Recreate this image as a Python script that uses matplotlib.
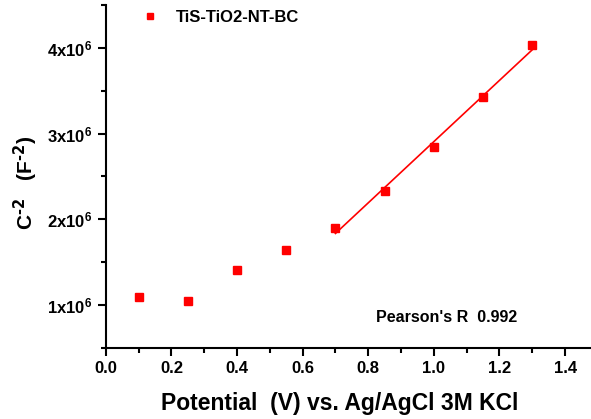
import numpy as np
import matplotlib
matplotlib.use('Agg')
import matplotlib.pyplot as plt
from matplotlib.ticker import MultipleLocator, FixedLocator

plt.rcParams['font.family'] = ['Liberation Sans', 'DejaVu Sans']
plt.rcParams['font.weight'] = 'bold'
plt.rcParams['mathtext.default'] = 'regular'

# data
potential = [0.10, 0.25, 0.40, 0.55, 0.70, 0.85, 1.00, 1.15, 1.30]
c_inv2 = [1.09e6, 1.05e6, 1.41e6, 1.64e6, 1.90e6, 2.33e6, 2.84e6, 3.43e6, 4.03e6]
fit_start = 4  # linear fit over the last five points
series_name = 'TiS-TiO2-NT-BC'
pearson_r = 0.992
ytick_vals = [1e6, 2e6, 3e6, 4e6]
ytick_labels = ['1x10$^{6}$', '2x10$^{6}$', '3x10$^{6}$', '4x10$^{6}$']

fig = plt.figure(figsize=(5.91, 4.19), dpi=100)
ax = fig.add_axes([0.179, 0.17, 0.821, 0.818])

ax.plot(potential, c_inv2, 's', color='red', markersize=5.5, label=series_name)

#linear fit line
xf = np.array(potential[fit_start:])
yf = np.array(c_inv2[fit_start:])
k, b = np.polyfit(xf, yf, 1)
ax.plot([xf[0], xf[-1]], [k*xf[0]+b, k*xf[-1]+b], color='red', lw=1.2)

ax.set_xlim(0, 1.479)
ax.set_ylim(0.5e6, 4.5e6)
ax.xaxis.set_major_locator(MultipleLocator(0.2))
ax.xaxis.set_minor_locator(MultipleLocator(0.1))
ax.yaxis.set_major_locator(FixedLocator(ytick_vals))
ax.yaxis.set_minor_locator(MultipleLocator(0.5e6))
ax.set_yticklabels(ytick_labels, fontsize=12, fontweight='bold')
ax.set_xticklabels(['%.1f' % v for v in ax.get_xticks()], fontsize=12, fontweight='bold')

for s in ['top', 'right']:
    ax.spines[s].set_visible(False)
for s in ['left', 'bottom']:
    ax.spines[s].set_linewidth(1.5)
ax.tick_params(which='major', length=6, width=1.5)
ax.tick_params(which='minor', length=3.5, width=1.5)

ax.set_xlabel('Potential  (V) vs. Ag/AgCl 3M KCl', fontsize=16.5, fontweight='bold')
ax.xaxis.set_label_coords(0.482, -0.13)
ax.set_ylabel(r'C$^{\text{-2}}$   (F$^{\text{-2}}$)', fontsize=15, fontweight='bold')
ax.yaxis.set_label_coords(-0.135, 0.48)

ax.text(0.557, 0.088, "Pearson's R  %.3f" % pearson_r, transform=ax.transAxes,
        fontsize=11.5, fontweight='bold', ha='left', va='center')

ax.legend(loc='upper left', bbox_to_anchor=(0.025, 1.03), frameon=False,
          prop={'size': 12, 'weight': 'bold'}, handletextpad=0.6, markerscale=0.8)

plt.savefig('out.png', dpi=100)
